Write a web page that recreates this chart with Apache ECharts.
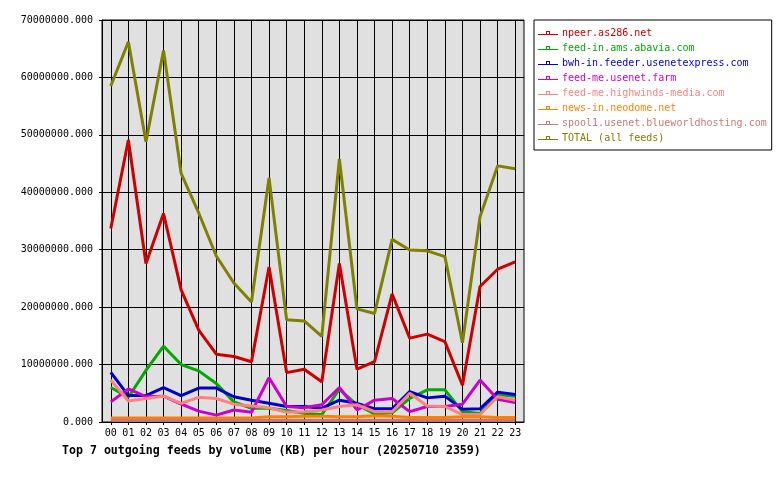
<!DOCTYPE html>
<html>
<head>
<meta charset="utf-8">
<script src="https://cdn.jsdelivr.net/npm/echarts@6/dist/echarts.min.js"></script>
<style>
html,body{margin:0;padding:0;background:#fff;}
#chart{width:780px;height:480px;}
</style>
</head>
<body>
<div id="chart"></div>
<script>
const hours = ['00','01','02','03','04','05','06','07','08','09','10','11','12','13','14','15','16','17','18','19','20','21','22','23'];

const seriesNames = [
  'npeer.as286.net',
  'feed-in.ams.abavia.com',
  'bwh-in.feeder.usenetexpress.com',
  'feed-me.usenet.farm',
  'feed-me.highwinds-media.com',
  'news-in.neodome.net',
  'spool1.usenet.blueworldhosting.com',
  'TOTAL (all feeds)'
];
const seriesColors = ['#cc0000','#00aa00','#0000cc','#cc00cc','#ff8080','#ff8000','#cc7777','#808000'];

const npeer   = [33.7e6,49.1e6,27.6e6,36.3e6,23.0e6,16.0e6,11.8e6,11.4e6,10.5e6,27.0e6,8.6e6,9.2e6,7.0e6,27.6e6,9.2e6,10.5e6,22.3e6,14.6e6,15.3e6,14.0e6,6.4e6,23.6e6,26.6e6,27.9e6];
const abavia  = [6.0e6,4.3e6,9.0e6,13.2e6,10.0e6,8.9e6,6.7e6,3.5e6,2.4e6,2.4e6,2.0e6,1.5e6,1.3e6,5.7e6,3.0e6,1.4e6,1.6e6,4.1e6,5.6e6,5.6e6,1.8e6,1.5e6,4.8e6,4.5e6];
const bwh     = [8.65e6,4.6e6,4.6e6,6.0e6,4.6e6,5.9e6,5.9e6,4.4e6,3.8e6,3.25e6,2.7e6,2.7e6,2.4e6,3.8e6,3.25e6,2.3e6,2.3e6,5.3e6,4.2e6,4.5e6,2.2e6,2.3e6,5.2e6,4.8e6];
const farm    = [3.5e6,5.75e6,4.4e6,4.5e6,3.1e6,1.9e6,1.2e6,2.1e6,1.7e6,7.7e6,2.7e6,2.5e6,3.0e6,6.0e6,2.1e6,3.8e6,4.1e6,1.8e6,2.7e6,2.7e6,3.1e6,7.3e6,3.95e6,3.4e6];
const highwinds = [7.3e6,3.65e6,4.1e6,4.5e6,3.25e6,4.3e6,4.1e6,3.1e6,2.8e6,2.5e6,1.7e6,1.8e6,2.1e6,2.7e6,3.0e6,1.8e6,1.8e6,5.0e6,2.8e6,2.7e6,1.3e6,1.3e6,4.4e6,3.8e6];
const neodome = [0.7e6,0.7e6,0.7e6,0.7e6,0.7e6,0.7e6,0.7e6,0.7e6,0.7e6,0.9e6,0.9e6,1.0e6,1.0e6,0.9e6,0.9e6,1.1e6,1.0e6,0.8e6,0.8e6,0.8e6,0.9e6,0.9e6,0.8e6,0.8e6];
const spool1  = [0.3e6,0.3e6,0.3e6,0.3e6,0.3e6,0.3e6,0.3e6,0.3e6,0.3e6,0.3e6,0.3e6,0.3e6,0.3e6,0.3e6,0.3e6,0.3e6,0.3e6,0.3e6,0.3e6,0.3e6,0.3e6,0.3e6,0.3e6,0.3e6];
const total   = [58.5e6,66.2e6,48.8e6,64.7e6,43.3e6,36.4e6,28.9e6,24.2e6,20.9e6,42.5e6,17.8e6,17.6e6,14.9e6,45.8e6,19.7e6,18.9e6,31.8e6,29.95e6,29.8e6,28.8e6,13.8e6,35.75e6,44.6e6,44.1e6];

const yTicks = { min: 0, max: 70000000, interval: 10000000 };
const titleText = 'Top 7 outgoing feeds by volume (KB) per hour (20250710 2359)';

const allData = [npeer, abavia, bwh, farm, highwinds, neodome, spool1, total];
const FONT = '"DejaVu Sans Mono", monospace';

const chart = echarts.init(document.getElementById('chart'), null, {renderer: 'canvas'});
chart.setOption({
  animation: false,
  backgroundColor: '#ffffff',
  title: {
    text: titleText,
    left: 62, top: 445, padding: 0,
    textStyle: { fontFamily: FONT, fontSize: 11.6, fontWeight: 'bold', color: '#000' }
  },
  legend: {
    orient: 'vertical',
    left: 534, top: 20,
    padding: [7, 5, 6, 4],
    borderColor: '#000', borderWidth: 1,
    backgroundColor: '#fff',
    itemWidth: 20, itemHeight: 4, itemGap: 3,
    icon: 'path://M0,3H20V4H0Z M8,0H12V1H8Z M8,0H9V4H8Z M11,0H12V4H11Z',
    itemStyle: { borderWidth: 0 },
    textStyle: { fontFamily: FONT, fontSize: 10, lineHeight: 12, padding: [0,0,0,-1] },
    data: seriesNames.map((n, i) => ({ name: n, textStyle: { color: seriesColors[i] } }))
  },
  grid: {
    left: 102, right: 256, top: 20, bottom: 58,
    show: true, backgroundColor: '#e0e0e0', borderColor: '#000', borderWidth: 1,
    containLabel: false
  },
  xAxis: {
    type: 'category',
    data: hours,
    boundaryGap: true,
    axisLine: { lineStyle: { color: '#000', width: 1 } },
    axisTick: { show: true, alignWithLabel: true, length: 3, lineStyle: { color: '#000' } },
    axisLabel: { color: '#000', fontFamily: FONT, fontSize: 10, margin: 6, interval: 0 },
    splitLine: { show: true, alignWithLabel: true, lineStyle: { color: '#000', width: 1 } }
  },
  yAxis: {
    type: 'value',
    min: yTicks.min, max: yTicks.max, interval: yTicks.interval,
    axisLine: { show: true, lineStyle: { color: '#000', width: 1 } },
    axisTick: { show: true, length: 3, lineStyle: { color: '#000' } },
    axisLabel: { color: '#000', fontFamily: FONT, fontSize: 10, margin: 9,
      formatter: v => v.toFixed(3) },
    splitLine: { show: true, lineStyle: { color: '#000', width: 1 } }
  },
  series: seriesNames.map((n, i) => ({
    name: n,
    type: 'line',
    data: allData[i],
    symbol: 'none',
    color: seriesColors[i],
    lineStyle: { width: 3, color: seriesColors[i] },
    itemStyle: { color: seriesColors[i] }
  }))
});
</script>
</body>
</html>
